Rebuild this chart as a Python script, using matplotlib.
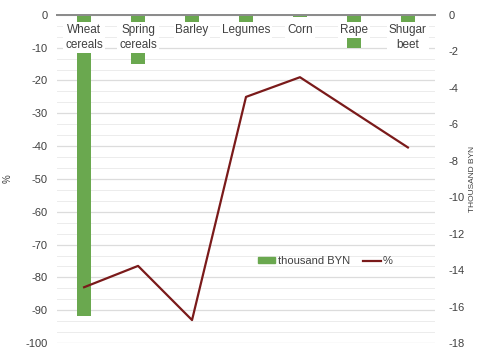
import matplotlib
matplotlib.use("Agg")
import matplotlib.pyplot as plt
import matplotlib.patches as mpatches
from matplotlib.lines import Line2D
from matplotlib.ticker import MultipleLocator, FuncFormatter

plt.rcParams["font.family"] = ["Liberation Sans", "DejaVu Sans"]

crops = ["Wheat\ncereals", "Spring\ncereals", "Barley", "Legumes", "Corn", "Rape", "Shugar\nbeet"]
thousand_byn = [-16.5, -2.7, -0.4, -0.4, -0.1, -1.8, -1.9]
percent = [-83, -76.5, -93, -25, -19, -29.7, -40.4]

GREEN = "#6aa84f"
MAROON = "#7a1a1a"
TXT = "#404040"

fig = plt.figure(figsize=(4.8, 3.54), dpi=100)
ax = fig.add_axes([0.119, 0.031, 0.787, 0.927])
ax2 = ax.twinx()

x = list(range(len(crops)))

# bars on the right axis, line on the left one; line axis drawn on top
ax2.bar(x, thousand_byn, width=0.27, color=GREEN, zorder=2)
ax.plot(x, percent, color=MAROON, lw=1.6, zorder=5)
ax.set_zorder(ax2.get_zorder() + 1)
ax.patch.set_visible(False)

ax.set_xlim(-0.5, len(crops) - 0.5)
ax.set_ylim(-100, 0)
ax2.set_ylim(-18, 0)

ax.yaxis.set_major_locator(MultipleLocator(10))
ax2.yaxis.set_major_locator(MultipleLocator(2))

# grid sits under the bars: major every 10 %, three minor steps between
scale = 18 / 100
for k in range(-30, 1):
    y = k * 10 / 3
    major = k % 3 == 0
    ax2.axhline(y * scale, color="#dcdcdc" if major else "#ececec",
                lw=0.9 if major else 0.7, zorder=0)

for a in (ax, ax2):
    for s in ("left", "right", "bottom"):
        a.spines[s].set_visible(False)
    a.spines["top"].set_color("#8c8c8c")
    a.spines["top"].set_linewidth(1.4)

ax.xaxis.set_ticks_position("top")
ax.set_xticks([i - 0.5 for i in range(len(crops) + 1)])
ax.set_xticklabels([])
ax.tick_params(axis="x", direction="inout", length=4, width=1, color="#666666")
ax.tick_params(axis="y", length=0, labelsize=8, labelcolor=TXT, pad=7)
ax2.tick_params(axis="y", length=0, labelsize=8, labelcolor=TXT, pad=10)
ax2.set_xticks([])

ax.yaxis.set_major_formatter(FuncFormatter(lambda v, p: f"{v:.0f}"))
ax2.yaxis.set_major_formatter(FuncFormatter(lambda v, p: f"{v:.0f}"))

# category labels sit over the bars on a white box
for i, name in enumerate(crops):
    ax.text(i, 0.972, name, transform=ax.get_xaxis_transform(), ha="center", va="top",
            fontsize=8.5, color=TXT, linespacing=1.3, zorder=10,
            bbox=dict(boxstyle="square,pad=0.15", fc="white", ec="none"))

ax.set_ylabel("%", fontsize=7, color=TXT, labelpad=9)
ax2.set_ylabel("THOUSAND BYN", fontsize=6, color=TXT, labelpad=3)

handles = [mpatches.Patch(color=GREEN, label="thousand BYN"),
           Line2D([], [], color=MAROON, lw=1.6, label="%")]
ax.legend(handles=handles, loc="center", bbox_to_anchor=(0.71, 0.25), ncol=2,
          frameon=False, fontsize=8, handlelength=1.6, handleheight=0.45,
          handletextpad=0.2, columnspacing=1.2, labelcolor=TXT)

fig.savefig("out.png", dpi=100)
